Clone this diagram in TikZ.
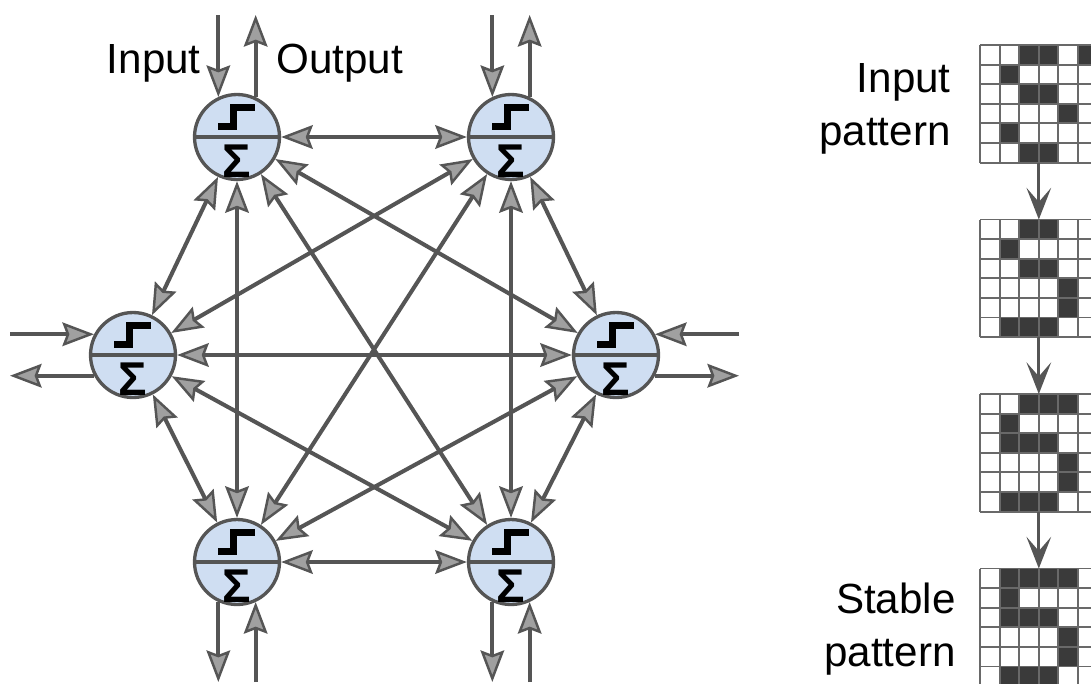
\documentclass[tikz,border=0pt]{standalone}
\usepackage{fontspec}
\setmainfont{Liberation Sans}
\usetikzlibrary{arrows.meta,calc}
\definecolor{linkgray}{RGB}{85,85,85}
\definecolor{tipfill}{RGB}{160,160,160}
\definecolor{cellblue}{RGB}{207,222,242}
\definecolor{darkcell}{RGB}{58,58,58}
\definecolor{gridgray}{RGB}{105,105,105}
\tikzset{
    nettip/.tip={Stealth[length=18pt,width=13.5pt,inset=2.5pt,line width=1.4pt,fill=tipfill]},
    flowtip/.tip={Stealth[length=18pt,width=14pt,inset=8pt]}
}
\begin{document}
\begin{tikzpicture}[x=0.02cm,y=-0.02cm,
        neuron/.style={circle,draw=linkgray,line width=1.9pt,fill=cellblue,minimum size=1.7cm,inner sep=0pt},
        link/.style={draw=linkgray,line width=2.3pt,nettip-nettip},
        io/.style={draw=linkgray,line width=2.3pt,-nettip},
        divider/.style={draw=linkgray,line width=2.6pt},
        stepline/.style={draw=black,line width=4pt,line join=miter},
        sumsign/.style={inner sep=0pt,font=\fontsize{27}{27}\selectfont\bfseries},
        txt/.style={inner sep=0pt,font=\fontsize{24}{30}\selectfont},
        patbox/.style={fill=white,minimum width=2.352cm,minimum height=2.352cm,inner sep=0pt,outer sep=0pt},
        gridline/.style={draw=gridgray,line width=1.1pt},
        flow/.style={draw=linkgray,line width=1.8pt,-flowtip}]
    \clip (0,0) rectangle (1091,683);

    % neurons
    \node[neuron] (n1) at (237,137) {};
    \node[neuron] (n2) at (511,137) {};
    \node[neuron] (n3) at (133,355) {};
    \node[neuron] (n4) at (616,355) {};
    \node[neuron] (n5) at (237,562) {};
    \node[neuron] (n6) at (511,562) {};
    \foreach \n in {n1,n2,n3,n4,n5,n6} {
        \draw[divider] (\n.west) -- (\n.east);
        \draw[stepline] ($(\n)+(-19,-10.5)$) -- ++(15.5,0) -- ++(0,-19) -- ++(21.5,0);
        \node[sumsign] (sum\n) at ($(\n)+(0,24)$) {Σ};
    }

    % every neuron talks to every other one
    \foreach \a/\b in {n1/n2,n1/n3,n1/n4,n1/n5,n1/n6,n2/n3,n2/n4,n2/n5,n2/n6,
                       n3/n4,n3/n5,n3/n6,n4/n5,n4/n6,n5/n6}
        \draw[link] (\a) -- (\b);

    % inputs and outputs
    \coordinate (topedge) at (0,15);
    \coordinate (botedge) at (0,682);
    \coordinate (leftedge) at (10,0);
    \coordinate (rightedge) at (739,0);
    \foreach \n in {n1,n2} {
        \draw[io] (\n.115 |- topedge) -- (\n.115);
        \draw[io] (\n.65) -- (\n.65 |- topedge);
    }
    \foreach \n in {n5,n6} {
        \draw[io] (\n.245) -- (\n.245 |- botedge);
        \draw[io] (\n.295 |- botedge) -- (\n.295);
    }
    \draw[io] (n3.152 -| leftedge) -- (n3.152);
    \draw[io] (n3.208) -- (n3.208 -| leftedge);
    \draw[io] (n4.28 -| rightedge) -- (n4.28);
    \draw[io] (n4.332) -- (n4.332 -| rightedge);

    \node[txt,anchor=base east] (inlabel) at (201,73) {Input};
    \node[txt,anchor=base west] (outlabel) at (276,73) {Output};

    % patterns
    \foreach \g/\ytop/\dark in {1/45/{3/1,4/1,6/1,2/2,3/3,4/3,5/4,2/5,3/6,4/6},
                                2/219.5/{3/1,4/1,2/2,3/3,4/3,5/4,5/5,2/6,3/6,4/6},
                                3/394/{3/1,4/1,5/1,2/2,2/3,3/3,4/3,5/4,5/5,2/6,3/6,4/6},
                                4/568.5/{2/1,3/1,4/1,5/1,2/2,2/3,3/3,4/3,5/4,5/5,2/6,3/6,4/6}} {
        \node[patbox] (pat\g) at (1038.8,{\ytop+58.8}) {};
        \foreach \c/\r in \dark
            \fill[darkcell] ({980+(\c-1)*19.6},{\ytop+(\r-1)*19.6}) rectangle ++(19.6,19.6);
        \foreach \i in {0,...,6} {
            \draw[gridline] ({980+\i*19.6},\ytop) -- ++(0,117.6);
            \draw[gridline] (980,{\ytop+\i*19.6}) -- ++(117.6,0);
        }
    }
    \draw[flow] (pat1) -- (pat2);
    \draw[flow] (pat2) -- (pat3);
    \draw[flow] (pat3) -- (pat4);

    \node[txt,anchor=north east,align=right] (inpat) at (951,63) {Input\\pattern};
    \node[txt,anchor=north east,align=right] (stablepat) at (956,583) {Stable\\pattern};
\end{tikzpicture}
\end{document}
